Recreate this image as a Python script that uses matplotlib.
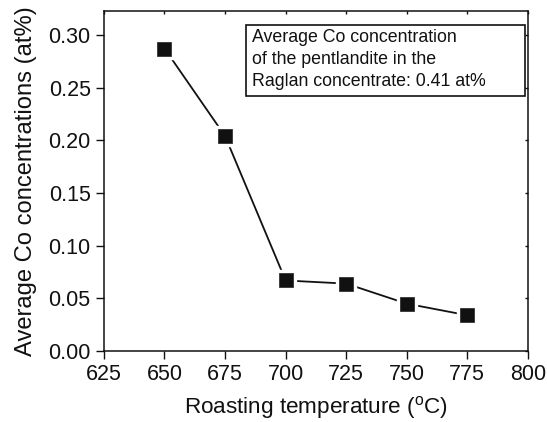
import matplotlib
matplotlib.use("Agg")
import matplotlib.pyplot as plt
from matplotlib.patches import Rectangle

plt.rcParams['font.family'] = ['Liberation Sans', 'DejaVu Sans']

temperature = [650, 675, 700, 725, 750, 775]
co_conc = [0.287, 0.204, 0.067, 0.064, 0.045, 0.034]

x_ticks = [625, 650, 675, 700, 725, 750, 775, 800]
y_ticks = [0.00, 0.05, 0.10, 0.15, 0.20, 0.25, 0.30]

fig = plt.figure(figsize=(5.47, 4.22), dpi=100)
ax = fig.add_axes([0.190, 0.168, 0.775, 0.807])

ax.plot(temperature, co_conc, color='#111111', lw=1.3, zorder=2)
# white halo so the connecting line stops short of each marker
ax.plot(temperature, co_conc, ls='none', marker='s', ms=15,
        mfc='white', mec='white', zorder=3)
ax.plot(temperature, co_conc, ls='none', marker='s', ms=9.5,
        mfc='#111111', mec='#333333', mew=0.6, zorder=4)

ax.set_xlim(625, 800)
ax.set_ylim(0, 0.323)
ax.set_xticks(x_ticks)
ax.set_yticks(y_ticks)
ax.set_yticklabels([f"{v:.2f}" for v in y_ticks])

ax.tick_params(axis='both', which='major', labelsize=15.5, width=1.0,
               length=5.5, direction='out', pad=4, colors='#111111')
ax.tick_params(top=True, right=True, labeltop=False, labelright=False)
for t in ax.xaxis.get_major_ticks():
    t.tick2line.set_markersize(2.5)
    t.tick2line.set_marker(3)
for t in ax.yaxis.get_major_ticks():
    t.tick2line.set_markersize(2.5)
    t.tick2line.set_marker(0)

for s in ax.spines.values():
    s.set_linewidth(1.1)
    s.set_color('#111111')

ax.set_xlabel('Roasting temperature ($\\mathregular{^{o}}$C)', fontsize=16.2,
              labelpad=6, color='#111111')
ax.set_ylabel('Average Co concentrations (at%)', fontsize=17.1,
              labelpad=8, color='#111111')

# annotation box
box_x0, box_x1 = 0.335, 0.993
box_y0, box_y1 = 0.749, 0.957
ax.add_patch(Rectangle((box_x0, box_y0), box_x1 - box_x0, box_y1 - box_y0,
                       transform=ax.transAxes, fill=False, lw=1.2,
                       edgecolor='#111111', zorder=5))
ax.text(0.349, 0.947,
        "Average Co concentration\nof the pentlandite in the\nRaglan concentrate: 0.41 at%",
        transform=ax.transAxes, fontsize=12.8, va='top', ha='left',
        linespacing=1.4, color='#111111', zorder=6)

fig.savefig('out.png', dpi=100)
